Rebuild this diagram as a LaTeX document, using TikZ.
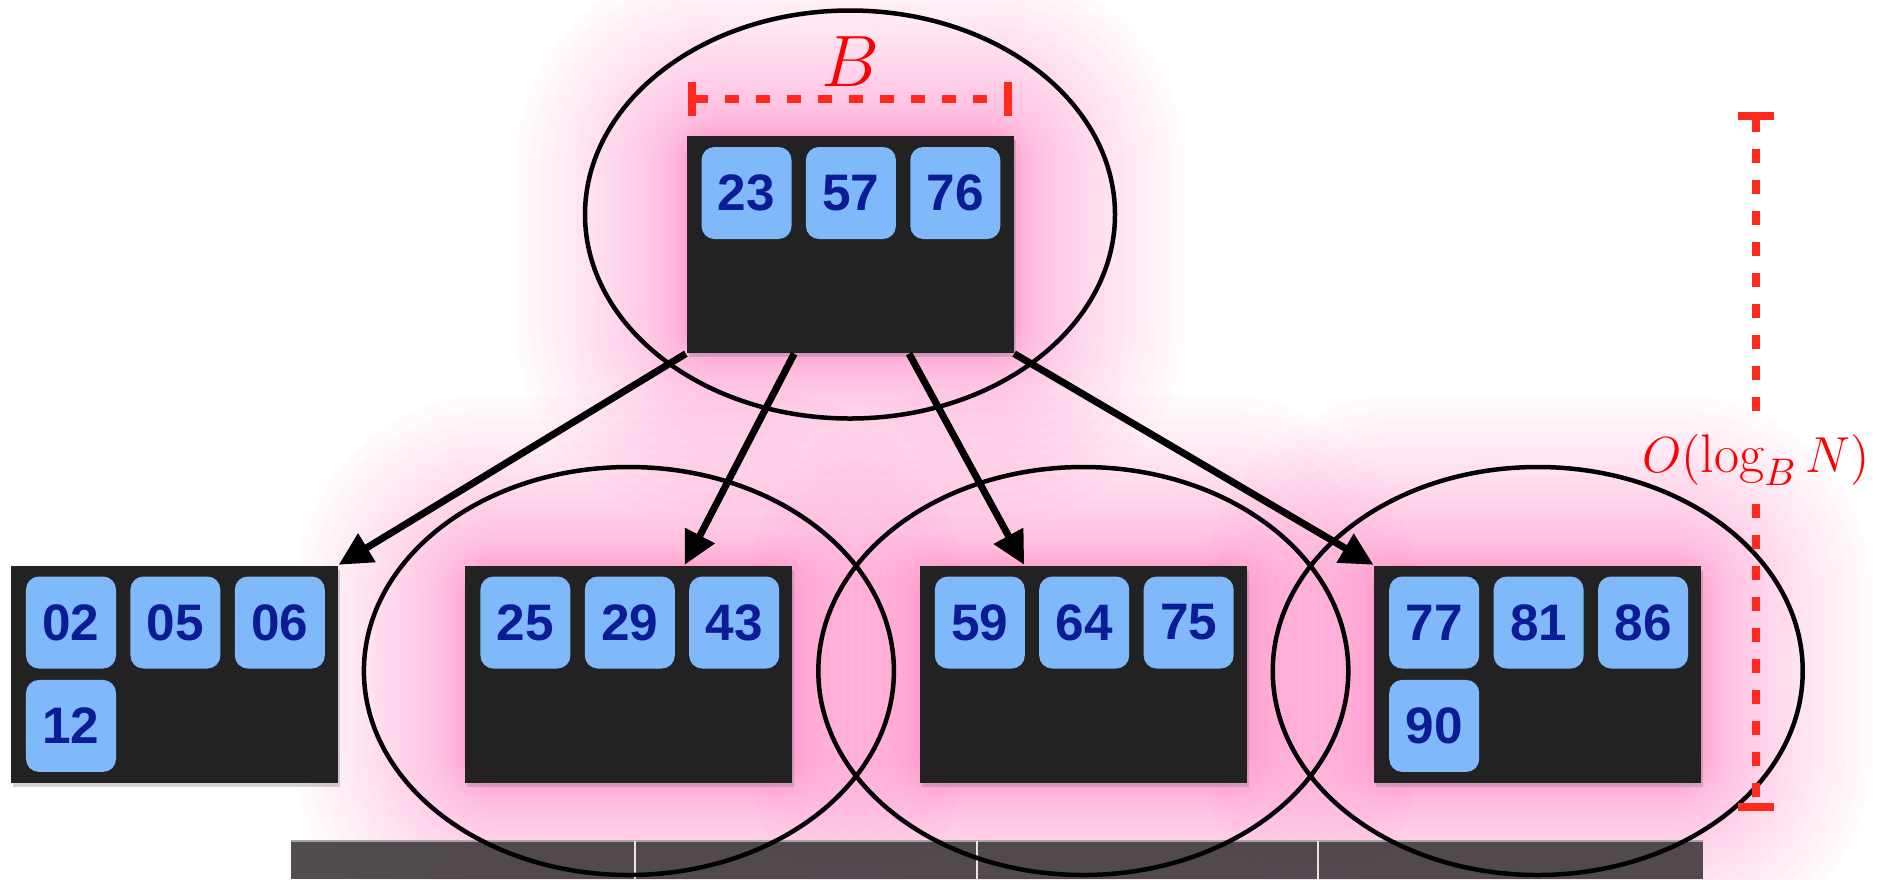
\documentclass[tikz,border=0pt]{standalone}
\usepackage{fontspec}
\usetikzlibrary{positioning,calc,arrows.meta,shadows}
\newfontfamily\keyfont{Liberation Sans}

\definecolor{blockgray}{HTML}{222222}
\definecolor{keyblue}{RGB}{128,185,250}
\definecolor{keyink}{RGB}{12,28,150}
\definecolor{glowpink}{RGB}{255,60,160}
\definecolor{rulered}{RGB}{255,42,28}
\definecolor{diskgray}{RGB}{66,62,64}

\pgfdeclarelayer{glow}
\pgfsetlayers{glow,main}

\tikzset{
  blk/.style={fill=blockgray, minimum width=3.27cm, minimum height=2.17cm, inner sep=0pt,
    drop shadow={shadow xshift=0.02cm, shadow yshift=-0.04cm, opacity=0.35}},
  keybox/.style={fill=keyblue, text=keyink, rounded corners=0.13cm, minimum width=0.9cm,
    minimum height=0.92cm, inner sep=0pt, font=\keyfont\bfseries\fontsize{14.6}{16}\selectfont},
  ptr/.style={line width=0.07cm, -{Triangle[length=0.33cm,width=0.32cm]}},
  rim/.style={line width=0.045cm},
  rdash/.style={rulered, line width=0.08cm, dash pattern=on 0.14cm off 0.17cm},
}

\begin{document}
\begin{tikzpicture}
    \useasboundingbox (0,0) rectangle (18.89,8.79);

    % disk strip along the bottom
    \fill[diskgray, opacity=0.92] (2.91,0) rectangle (17.03,0.38);
    \draw[gray!70, line width=0.4pt] (2.91,0.38) -- (17.03,0.38);
    \foreach \x in {6.35,9.77,13.18}
        \draw[white!80!gray, line width=0.5pt] (\x,0) -- (\x,0.38);

    % blocks
    \node[blk] (root) at (8.50,6.345) {};
    \node[blk] (leafa) at (1.745,2.05) {};
    \node[blk, right=1.26cm of leafa] (leafb) {};
    \node[blk, right=1.26cm of leafb] (leafc) {};
    \node[blk, right=1.26cm of leafc] (leafd) {};

    % keys
    \node[keybox, anchor=north west] (k23) at ($(root.north west)+(0.15,-0.11)$) {23};
    \node[keybox, right=0.13cm of k23] (k57) {57};
    \node[keybox, right=0.13cm of k57] (k76) {76};

    \node[keybox, anchor=north west] (k02) at ($(leafa.north west)+(0.15,-0.11)$) {02};
    \node[keybox, right=0.13cm of k02] (k05) {05};
    \node[keybox, right=0.13cm of k05] (k06) {06};
    \node[keybox, below=0.10cm of k02] (k12) {12};

    \node[keybox, anchor=north west] (k25) at ($(leafb.north west)+(0.15,-0.11)$) {25};
    \node[keybox, right=0.13cm of k25] (k29) {29};
    \node[keybox, right=0.13cm of k29] (k43) {43};

    \node[keybox, anchor=north west] (k59) at ($(leafc.north west)+(0.15,-0.11)$) {59};
    \node[keybox, right=0.13cm of k59] (k64) {64};
    \node[keybox, right=0.13cm of k64] (k75) {75};

    \node[keybox, anchor=north west] (k77) at ($(leafd.north west)+(0.15,-0.11)$) {77};
    \node[keybox, right=0.13cm of k77] (k81) {81};
    \node[keybox, right=0.13cm of k81] (k86) {86};
    \node[keybox, below=0.10cm of k77] (k90) {90};

    % glow behind the blocks that get read, thin layers so it fades smoothly
    \begin{pgfonlayer}{glow}
        \foreach \n in {root,leafb,leafc,leafd}
            \foreach \i in {1,...,28} {
                \pgfmathsetmacro\m{1.7*(\i/28)^2.2}
                \pgfmathsetmacro\r{\m+0.3}
                \fill[glowpink, opacity=0.022, rounded corners=\r cm]
                    ($(\n.south west)+(-\m,-\m)$) rectangle ($(\n.north east)+(\m,\m)$);
            }
    \end{pgfonlayer}

    % rims
    \draw[rim] ($(root)+(0,0.3)$) ellipse [x radius=2.65, y radius=2.04];
    \foreach \n in {leafb,leafc,leafd}
        \draw[rim] ($(\n)+(0,0.03)$) ellipse [x radius=2.65, y radius=2.04];

    % child pointers
    \draw[ptr] (root.south west) -- (leafa.north east);
    \draw[ptr] ($(root.south west)!0.33!(root.south east)$) -- ($(leafb.north west)!0.67!(leafb.north east)$);
    \draw[ptr] ($(root.south west)!0.68!(root.south east)$) -- ($(leafc.north west)!0.32!(leafc.north east)$);
    \draw[ptr] (root.south east) -- (leafd.north west);

    % block size
    \coordinate (bl) at ($(root.north west)+(0.02,0.36)$);
    \coordinate (br) at ($(root.north east)+(-0.02,0.36)$);
    \draw[rdash, {Bar[width=0.34cm]}-{Bar[width=0.34cm]}] (bl) -- (br);
    \node[text=red, font=\fontsize{21}{24}\selectfont] (bsize) at ($(bl)!0.5!(br)+(0,0.38)$) {$B$};

    % tree height
    \node[text=red, font=\fontsize{15.5}{18}\selectfont, inner sep=0.18cm] (depth) at (17.56,4.19) {$O(\log_B N)$};
    \coordinate (dtop) at (17.56,7.67);
    \coordinate (dbot) at (17.56,0.68);
    \draw[rdash, {Bar[width=0.36cm]}-] (dtop) -- (depth.north);
    \draw[rdash, -{Bar[width=0.36cm]}] (depth.south) -- (dbot);
\end{tikzpicture}
\end{document}
